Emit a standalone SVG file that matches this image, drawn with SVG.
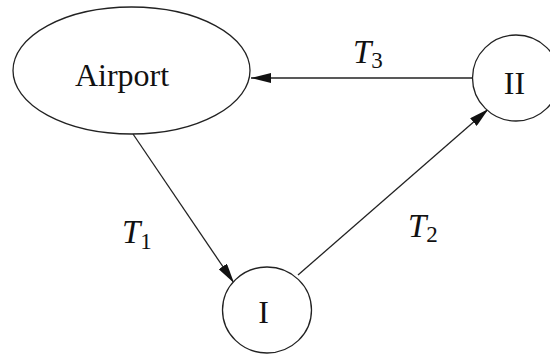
<svg xmlns="http://www.w3.org/2000/svg" width="550" height="354" viewBox="0 0 550 354">
<style>
.node{fill:#fff;stroke:#222;stroke-width:1.3}
.lbl{font-family:"Liberation Serif",serif;font-size:32px;fill:#111;text-anchor:middle}
.edge{stroke:#222;stroke-width:1.3;fill:none;marker-end:url(#arr)}
.t{font-family:"Liberation Serif",serif;font-style:italic;font-size:33px;fill:#111}
.sub{font-style:normal;font-size:23px}
</style>
<defs>
<marker id="arr" viewBox="0 0 20 10" refX="20" refY="5" markerWidth="20" markerHeight="10" markerUnits="userSpaceOnUse" orient="auto">
<path d="M0,0 L20,5 L0,10 Z" fill="#111"/>
</marker>
</defs>
<rect width="550" height="354" fill="#fff"/>
<g id="connectors">
<line class="edge" x1="133" y1="134" x2="234" y2="283"/>
<line class="edge" x1="298" y1="275" x2="488.5" y2="109"/>
<line class="edge" x1="472" y1="78" x2="251" y2="78"/>
</g>
<g id="airport">
<ellipse class="node" cx="131.5" cy="70.5" rx="118.5" ry="63.5"/>
<text class="lbl" x="122" y="86">Airport</text>
</g>
<g id="node-I">
<ellipse class="node" cx="267" cy="310" rx="44.5" ry="43"/>
<text class="lbl" x="263.5" y="322.5">I</text>
</g>
<g id="node-II">
<ellipse class="node" cx="516" cy="78" rx="43.5" ry="43"/>
<text class="lbl" x="514.5" y="93.5">II</text>
</g>
<g id="labels">
<text class="t" x="353" y="63">T<tspan class="sub" dy="5">3</tspan></text>
<text class="t" x="122" y="243">T<tspan class="sub" dy="6">1</tspan></text>
<text class="t" x="408" y="237">T<tspan class="sub" dy="5">2</tspan></text>
</g>
</svg>
